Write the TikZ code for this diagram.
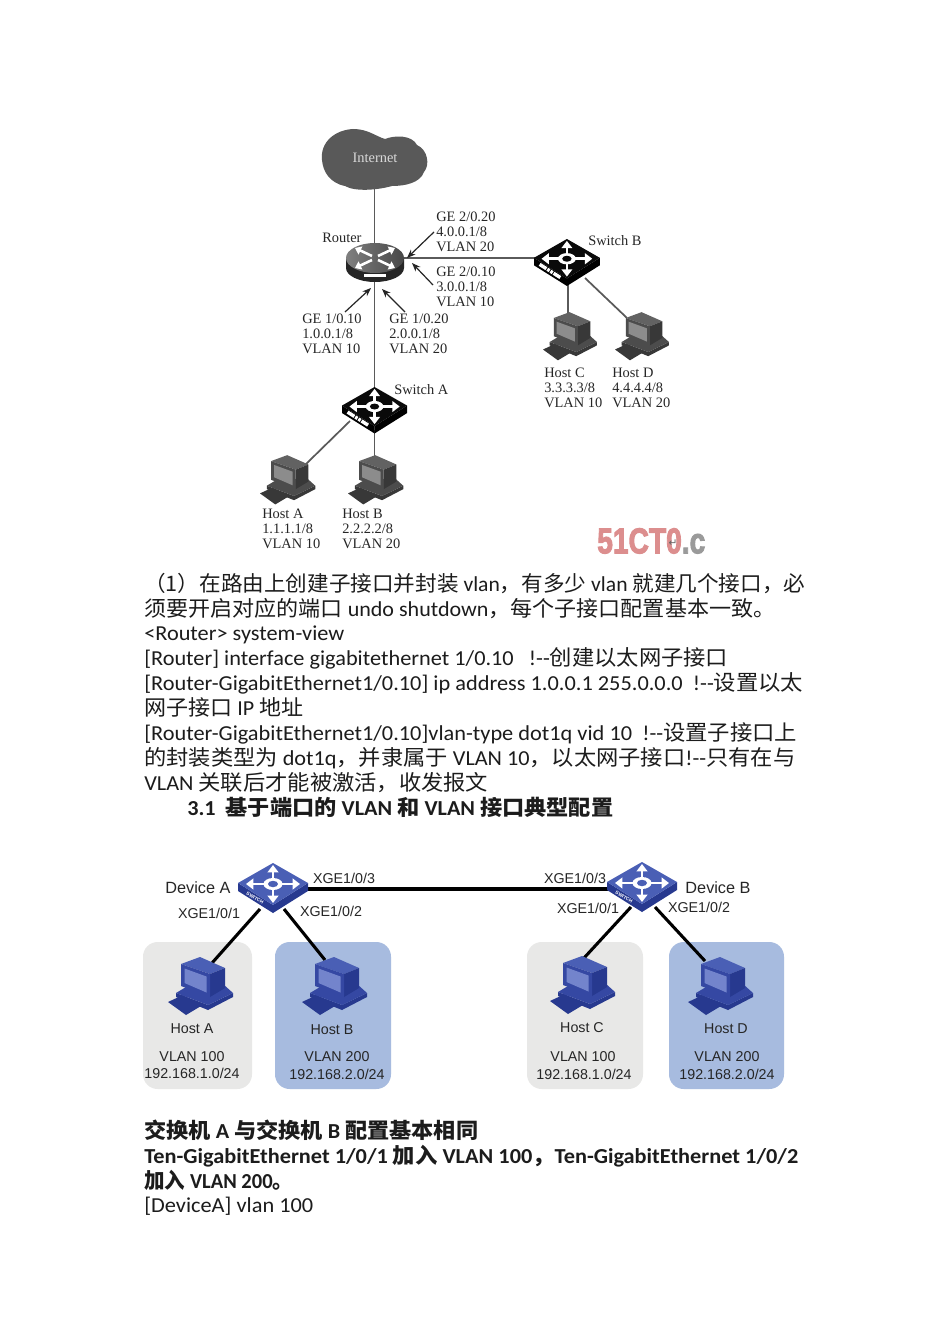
\documentclass[tikz,border=0pt]{standalone}
\usepackage{fontspec}
\usepackage{graphicx}
\usetikzlibrary{arrows.meta}
\setmainfont{Carlito}
\newfontfamily\cjk{Noto Sans CJK SC}
\newfontfamily\serifx{Liberation Serif}
\newfontfamily\arialx{Liberation Sans}
\newfontfamily\dejavux{DejaVu Sans}
\newfontfamily\markx[FakeBold=3]{Liberation Sans}
\newcommand\zh[1]{{\cjk #1}}
\newcommand\dd{-{}-}
\newdimen\pxu \pxu=.75pt
\newcommand\fitw[2]{\resizebox{#1\pxu}{\height}{#2}}
% palettes: b = blue, g = grey, k = black
\definecolor{btop}{HTML}{4A5FB5}\definecolor{bdark}{HTML}{27398F}\definecolor{bmid}{HTML}{3548A3}\definecolor{bscreen}{HTML}{7384CC}
\definecolor{gtop}{HTML}{626262}\definecolor{gdark}{HTML}{383838}\definecolor{gmid}{HTML}{4C4C4C}\definecolor{gscreen}{HTML}{8C8C8C}
\definecolor{ktop}{HTML}{0A0A0A}\definecolor{kdark}{HTML}{000000}
\definecolor{panelgrey}{HTML}{E8E8E7}\definecolor{panelblue}{HTML}{A7BBDF}
\definecolor{inkgrey}{HTML}{262626}\definecolor{linegrey}{HTML}{5A5A5A}
\definecolor{bodyink}{HTML}{1C1C1C}
\tikzset{
  bodyline/.style={anchor=base west,inner sep=0pt,text=bodyink,font=\fontsize{16}{19}\selectfont},
  boldline/.style={bodyline,font=\fontsize{16}{19}\selectfont\bfseries},
  serifnote/.style={anchor=north west,inner sep=0pt,align=left,text=inkgrey,font=\serifx\fontsize{10.8}{11.4}\selectfont},
  sanslabel/.style={inner sep=0pt,text=black!85,font=\arialx\fontsize{10.7}{12}\selectfont},
  devlabel/.style={sanslabel,font=\arialx\fontsize{12.2}{14}\selectfont},
  glink/.style={draw=linegrey,line width=1.3pt},
  klink/.style={draw=black,line width=2.3pt},
  callout/.style={draw=black!85,line width=.9pt,-{Stealth[length=6.5pt,width=5pt]}},
}
\newcommand\pcicon[4]{%
 \begin{scope}[shift={(#1,#2)},scale=#3]
  \fill[#4dark] (0,44)--(15,37)--(33,48)--(18,57)--cycle;
  \fill[#4dark] (8,35)--(40,47)--(65,35)--(65,39)--(40,52)--(8,39)--cycle;
  \fill[#4mid] (8,35)--(18,29)--(55,26)--(65,35)--(40,47)--cycle;
  \fill[#4top] (13,6)--(32,-1)--(57,10)--(42,16)--cycle;
  \fill[#4dark] (42,16)--(57,10)--(57,30)--(42,39)--cycle;
  \fill[#4mid] (13,6)--(42,16)--(42,39)--(13,28)--cycle;
  \fill[#4screen] (16.5,10.5)--(38.5,18.5)--(38.5,34.5)--(16.5,25)--cycle;
 \end{scope}}
\newcommand\arrowset[1]{%
  \foreach \ax/\ay in {35/2,35/40,8/21,62/21}{
   \draw[white,line width=2.2pt*#1,-{Triangle[length=5.5pt,width=8pt]}] (35,21)--(\ax,\ay);}
  \fill[white] (35,21) ellipse (9.5 and 6);}
\newcommand\swicon[5]{%
 \begin{scope}[shift={(#1,#2)},scale=#3]
  \fill[#4dark] (0,20)--(35,42)--(35,50)--(0,28)--cycle;
  \fill[#4dark] (70,20)--(35,42)--(35,50)--(70,28)--cycle;
  \fill[#4top] (35,0)--(70,20)--(35,42)--(0,20)--cycle;
  \arrowset{#3}
  \fill[#4top] (35,21) ellipse (5 and 3.2);
  #5
 \end{scope}}
\newcommand\blackpanel{\draw[white,line width=2.6pt,dash pattern=on 6pt off .8pt on 2pt off .8pt on 2pt off .8pt] (6,27)--(28,41);}
\newcommand\swtext{\node[inner sep=0pt,rotate=-30,text=white,font=\arialx\bfseries\fontsize{3.6}{4}\selectfont] at (17,35) {SWITCH};}
\newcommand\routericon[3]{%
 \begin{scope}[shift={(#1,#2)}]
  \fill[black!85] (-29,-4) -- (-29,6) arc[start angle=180,end angle=0,x radius=29,y radius=14] -- (29,-4)--cycle;
  \shade[left color=black!50,right color=black!72] (0,-4) ellipse (29 and 15);
  \foreach \sx/\sy in {-1/-1,1/-1,-1/1,1/1}{
    \draw[white,line width=1.9pt,-{Triangle[length=4.5pt,width=6.5pt]}] (\sx*3,-4+\sy*2) -- (\sx*20,-4+\sy*10);}
  \fill[white] (-11,12) rectangle (11,15);
 \end{scope}}
\begin{document}
\begin{tikzpicture}[x=.75pt,y=-.75pt]
\useasboundingbox (0,0) rectangle (950,1344);
\fill[white] (0,0) rectangle (950,1344);

%% ---- upper diagram: cloud
\fill[black!65] (322,160) .. controls (320,142) and (335,130) .. (353,129)
  .. controls (368,129) and (375,136) .. (385,139)
  .. controls (395,135) and (412,135) .. (417,145)
  .. controls (428,150) and (430,165) .. (424,172)
  .. controls (420,183) and (405,186) .. (392,186)
  .. controls (378,190) and (355,192) .. (345,186)
  .. controls (330,183) and (323,172) .. (322,160) -- cycle;
\node[inner sep=0pt,minimum width=79.5pt,minimum height=45pt,text=black!15,font=\serifx\fontsize{10.8}{12}\selectfont] (internet) at (375,158) {Internet};

%% device placeholders
\node[inner sep=0pt,minimum width=44pt,minimum height=30pt] (router) at (375,262) {};
\node[inner sep=0pt,minimum width=49.5pt,minimum height=34pt] (swB) at (567,262) {};
\node[inner sep=0pt,minimum width=48pt,minimum height=34pt] (swA) at (375,409) {};
\node[inner sep=0pt,minimum width=41pt,minimum height=36pt] (hostA) at (288,481) {};
\node[inner sep=0pt,minimum width=41pt,minimum height=36pt] (hostB) at (375,481) {};
\node[inner sep=0pt,minimum width=41pt,minimum height=36pt] (hostC) at (570,337) {};
\node[inner sep=0pt,minimum width=41pt,minimum height=36pt] (hostD) at (642,337) {};
\coordinate (swAa) at (350,421); \coordinate (hostAp) at (305,465);
\coordinate (swBd) at (585,278); \coordinate (hostDp) at (627,318);
\coordinate (routerE) at (403,258); \coordinate (swBw) at (536,258);
\coordinate (internetS) at (374.5,187); \coordinate (routerN) at (374.5,245);
\coordinate (routerS) at (374.5,280); \coordinate (swAn) at (374.5,390);
\coordinate (swAs) at (374.5,430); \coordinate (hostBn) at (374.5,460);
\coordinate (swBs) at (568,282); \coordinate (hostCn) at (568,316);

\draw[glink] (internetS) -- (routerN);
\draw[glink] (routerE) -- (swBw);
\draw[glink] (routerS) -- (swAn);
\draw[glink] (swAa) -- (hostAp);
\draw[glink] (swAs) -- (hostBn);
\draw[glink] (swBs) -- (hostCn);
\draw[glink] (swBd) -- (hostDp);

\routericon{375}{262}{}
\swicon{534}{239}{.94}{k}{\blackpanel}
\swicon{342}{387}{.93}{k}{\blackpanel}
\pcicon{260}{456}{.85}{g}
\pcicon{348}{456}{.85}{g}
\pcicon{543}{313}{.83}{g}
\pcicon{615}{313}{.83}{g}

%% callout arrows
\coordinate (c1a) at (434,232); \coordinate (c1b) at (407,258);
\coordinate (c2a) at (433,285); \coordinate (c2b) at (412,263);
\coordinate (c3a) at (345,312); \coordinate (c3b) at (371,288);
\coordinate (c4a) at (405,312); \coordinate (c4b) at (382,289);
\draw[callout] (c1a) -- (c1b);
\draw[callout] (c2a) -- (c2b);
\draw[callout] (c3a) -- (c3b);
\draw[callout] (c4a) -- (c4b);

%% labels (top = first baseline - 9.5)
\node[serifnote] (lblRouter) at (322,232.5) {Router};
\node[serifnote] (lblSwB) at (588,235.5) {Switch B};
\node[serifnote] (lblSwA) at (394,384.5) {Switch A};
\node[serifnote] (lblG220) at (436,211.5) {GE 2/0.20\\4.0.0.1/8\\VLAN 20};
\node[serifnote] (lblG210) at (436,266.5) {GE 2/0.10\\3.0.0.1/8\\VLAN 10};
\node[serifnote] (lblG110) at (302,313.5) {GE 1/0.10\\1.0.0.1/8\\VLAN 10};
\node[serifnote] (lblG120) at (389,313.5) {GE 1/0.20\\2.0.0.1/8\\VLAN 20};
\node[serifnote] (lblHC) at (544,367.5) {Host C\\3.3.3.3/8\\VLAN 10};
\node[serifnote] (lblHD) at (612,367.5) {Host D\\4.4.4.4/8\\VLAN 20};
\node[serifnote] (lblHA) at (262,508.5) {Host A\\1.1.1.1/8\\VLAN 10};
\node[serifnote] (lblHB) at (342,508.5) {Host B\\2.2.2.2/8\\VLAN 20};
\node[anchor=north west,inner sep=0pt] (mark) at (597,528) {\resizebox{108\pxu}{25\pxu}{\markx\bfseries\textcolor[HTML]{DC8E8E}{51CT0}\textcolor[HTML]{9A9A9A}{.c}}};
\node[inner sep=0pt,text=black!60,font=\dejavux\fontsize{8}{8}\selectfont] (retmark) at (673,543) {↵};

%% ---- body text 1
\node[bodyline] (t1) at (144,591) {\fitw{661}{\zh{（1）在路由上创建子接口并封装} vlan\zh{，有多少} vlan \zh{就建几个接口，必}}};
\node[bodyline] (t2) at (144,616) {\fitw{631}{\zh{须要开启对应的端口} undo shutdown\zh{，每个子接口配置基本一致。}}};
\node[bodyline] (t3) at (144,640) {\fitw{200}{<Router> system-view}};
\node[bodyline] (t4) at (144,665) {\fitw{584}{[Router] interface gigabitethernet 1/0.10 \ \ !\dd\zh{创建以太网子接口}}};
\node[bodyline] (t5) at (144,690) {\fitw{659}{[Router-GigabitEthernet1/0.10] ip address 1.0.0.1 255.0.0.0 \ !\dd\zh{设置以太}}};
\node[bodyline] (t6) at (144,715) {\fitw{159}{\zh{网子接口} IP \zh{地址}}};
\node[bodyline] (t7) at (144,740) {\fitw{653}{[Router-GigabitEthernet1/0.10]vlan-type dot1q vid 10 \ !\dd\zh{设置子接口上}}};
\node[bodyline] (t8) at (144,765) {\fitw{651}{\zh{的封装类型为} dot1q\zh{，并隶属于} VLAN 10\zh{，以太网子接口}!\dd\zh{只有在与}}};
\node[bodyline] (t9) at (144,790) {\fitw{344}{VLAN \zh{关联后才能被激活，收发报文}}};
\node[boldline] (t10) at (187,815) {\fitw{426}{3.1 \ \zh{基于端口的} VLAN \zh{和} VLAN \zh{接口典型配置}}};

%% ---- lower diagram
\fill[panelgrey,rounded corners=11pt] (143,942) rectangle (252,1089);
\fill[panelblue,rounded corners=11pt] (275,942) rectangle (391,1089);
\fill[panelgrey,rounded corners=11pt] (527,942) rectangle (643,1089);
\fill[panelblue,rounded corners=11pt] (669,942) rectangle (784,1089);

\node[inner sep=0pt,minimum width=52pt,minimum height=37pt] (devA) at (273,888) {};
\node[inner sep=0pt,minimum width=52pt,minimum height=37pt] (devB) at (642,887) {};
\node[inner sep=0pt,minimum width=48pt,minimum height=42pt] (pcA) at (200,986) {};
\node[inner sep=0pt,minimum width=48pt,minimum height=42pt] (pcB) at (335,986) {};
\node[inner sep=0pt,minimum width=48pt,minimum height=42pt] (pcC) at (583,985) {};
\node[inner sep=0pt,minimum width=48pt,minimum height=42pt] (pcD) at (720,986) {};
\coordinate (devAe) at (306,889); \coordinate (devBw) at (609,889);
\coordinate (devAl) at (260,909); \coordinate (pcAn) at (212,963);
\coordinate (devAr) at (284,909); \coordinate (pcBn) at (325,960);
\coordinate (devBl) at (631,907); \coordinate (pcCn) at (584,958);
\coordinate (devBr) at (655,907); \coordinate (pcDn) at (705,961);
\draw[klink] (devAe) -- (devBw);
\draw[klink] (devAl) -- (pcAn);
\draw[klink] (devAr) -- (pcBn);
\draw[klink] (devBl) -- (pcCn);
\draw[klink] (devBr) -- (pcDn);

\swicon{238}{863}{1}{b}{\swtext}
\swicon{607}{862}{1}{b}{\swtext}
\pcicon{168}{958}{1}{b}
\pcicon{302}{958}{1}{b}
\pcicon{550}{957}{1}{b}
\pcicon{688}{958}{1}{b}

\node[devlabel] (lDevA) at (198,888) {Device A};
\node[devlabel] (lDevB) at (718,888) {Device B};
\node[sanslabel] (p1) at (344,878) {XGE1/0/3};
\node[sanslabel] (p2) at (209,913) {XGE1/0/1};
\node[sanslabel] (p3) at (331,911) {XGE1/0/2};
\node[sanslabel] (p4) at (575,878) {XGE1/0/3};
\node[sanslabel] (p5) at (588,908) {XGE1/0/1};
\node[sanslabel] (p6) at (699,907) {XGE1/0/2};
\node[sanslabel] (hA) at (192,1029) {Host A};
\node[sanslabel] (hB) at (332,1030) {Host B};
\node[sanslabel] (hC) at (582,1028) {Host C};
\node[sanslabel] (hD) at (726,1029) {Host D};
\node[sanslabel] (vA) at (192,1057) {VLAN 100};
\node[sanslabel] (vB) at (337,1057) {VLAN 200};
\node[sanslabel] (vC) at (583,1057) {VLAN 100};
\node[sanslabel] (vD) at (727,1057) {VLAN 200};
\node[sanslabel] (nA) at (192,1073) {192.168.1.0/24};
\node[sanslabel] (nB) at (337,1074) {192.168.2.0/24};
\node[sanslabel] (nC) at (584,1074) {192.168.1.0/24};
\node[sanslabel] (nD) at (727,1074) {192.168.2.0/24};

%% ---- body text 2
\node[boldline] (b1) at (144,1138) {\fitw{334}{\zh{交换机} A \zh{与交换机} B \zh{配置基本相同}}};
\node[boldline] (b2) at (144,1163) {\fitw{654}{Ten-GigabitEthernet 1/0/1 \zh{加入} VLAN 100\zh{，}Ten-GigabitEthernet 1/0/2}};
\node[boldline] (b3) at (144,1188) {\fitw{149}{\zh{加入} VLAN 200\zh{。}}};
\node[bodyline] (b4) at (144,1212) {\fitw{169}{[DeviceA] vlan 100}};
\end{tikzpicture}
\end{document}
